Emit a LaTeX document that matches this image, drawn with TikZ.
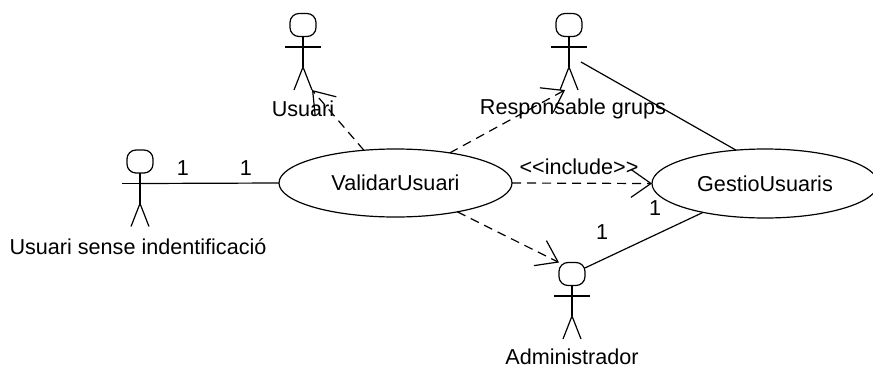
\documentclass[tikz,border=0pt]{standalone}
\usepackage{fontspec}
\setmainfont{Liberation Sans}
\usetikzlibrary{shapes.geometric, arrows.meta}

\tikzset{
    actor/.pic={
        \node[draw, line width=1.2pt, rounded corners=9pt, minimum width=26pt, minimum height=23pt, inner sep=0pt, outer sep=0pt] (-head) at (0,0) {};
        \coordinate (-arm) at (0,22);
        \draw[line width=1.2pt] (-head.south) -- (0,42);
        \draw[line width=1.2pt] (-18,22) -- (18,22);
        \draw[line width=1.2pt] (-9,65) -- (0,42) -- (9,65);
    }
}

\begin{document}
\begin{tikzpicture}[
    x=1pt,
    y=-1pt,
    usecase/.style={draw, ellipse, line width=1.2pt, inner sep=0pt, outer sep=0pt, font=\fontsize{21.6}{24}\selectfont},
    textlabel/.style={font=\fontsize{21.6}{24}\selectfont, inner sep=0pt},
    assoc/.style={line width=1.2pt},
    depend/.style={line width=1.2pt, dash pattern=on 9pt off 6pt, -{Straight Barb[length=20pt, width=28pt, line width=1.2pt]}}
]
    \useasboundingbox[fill=white] (0,0) rectangle (873,367);

    % Actors
    \pic (sense) at (140,161.5) {actor};
    \pic (usuari) at (303,25) {actor};
    \pic (resp) at (569,25) {actor};
    \pic (admin) at (572,274) {actor};

    % Actor names
    \node[textlabel] (senselabel) at (138,247) {Usuari sense indentificació};
    \node[textlabel] (usuarilabel) at (303,109) {Usuari};
    \node[textlabel] (resplabel) at (573,109) {Responsable grups};
    \node[textlabel] (adminlabel) at (572,356.5) {Administrador};

    % Use cases
    \node[usecase, minimum width=233pt, minimum height=68pt] (validar) at (395.5,183) {ValidarUsuari};
    \node[usecase, minimum width=226pt, minimum height=69pt] (gestio) at (765,183.5) {GestioUsuaris};

    % Free ends
    \coordinate (usuaritip) at (312,90);
    \coordinate (resptip) at (565,90);
    \coordinate (respend) at (581,62);

    % Connections
    \draw[assoc] (sense-arm) -- (validar.west);
    \draw[assoc] (respend) -- (gestio.131);
    \draw[assoc] (admin-head.25) -- (gestio.-155);
    \draw[depend] (validar.134) -- (usuaritip);
    \draw[depend] (validar.29) -- (resptip);
    \draw[depend] (validar.east) -- (gestio.west);
    \draw[depend] (validar.-25) -- (admin-head.north west);

    % Labels on connections
    \node[textlabel] (mult1) at (183,168) {1};
    \node[textlabel] (mult2) at (246,168) {1};
    \node[textlabel] (mult3) at (655,208) {1};
    \node[textlabel] (mult4) at (602,232) {1};
    \node[textlabel] (incl) at (579,167) {<{}<include>{}>};
\end{tikzpicture}
\end{document}
